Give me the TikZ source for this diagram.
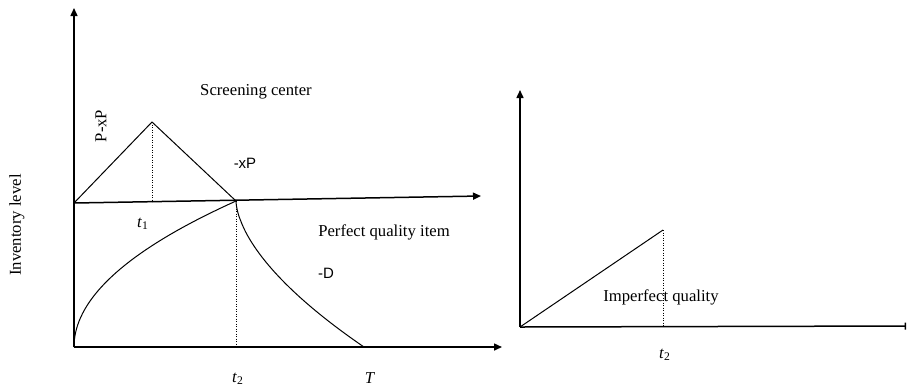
\documentclass[tikz,border=0pt]{standalone}
\usepackage{fontspec}
\setmainfont{Liberation Serif}
\newfontfamily\arialfont{Liberation Sans}
\usetikzlibrary{arrows.meta}
\newcommand{\tlab}[1]{\textit{t}\textsubscript{#1}}
\tikzset{
  axis/.style={line width=0.9pt,-{Triangle[length=4.8pt,width=4.2pt]}},
  curve/.style={line width=0.6pt},
  guide/.style={line width=0.5pt,densely dotted},
  lab/.style={font=\fontsize{10}{12}\selectfont,inner sep=0pt},
  rate/.style={font=\arialfont\fontsize{9}{11}\selectfont,inner sep=0pt},
}
\begin{document}
\begin{tikzpicture}[x=0.6pt,y=-0.6pt]
  \useasboundingbox (0,0) rectangle (907,391);
  % Screening center and perfect items
  \coordinate (o1) at (74,347);
  \coordinate (m1) at (74,203);
  \coordinate (top1) at (74,8);
  \coordinate (endT) at (502,347);
  \coordinate (endM) at (481,196);
  \coordinate (peak) at (152,122);
  \coordinate (foot1) at (152,202);
  \coordinate (meet) at (236,201);
  \coordinate (foot2) at (236,347);
  \draw[axis] (o1) -- (top1);
  \draw[axis] (o1) -- (endT);
  \draw[axis] (m1) -- (endM);
  \draw[curve] (m1) -- (peak) -- (meet);
  \draw[guide] (peak) -- (foot1);
  \draw[guide] (meet) -- (foot2);
  \draw[curve] plot[domain=0:1,samples=40,variable=\s] ({74+162*\s*\s},{347-146*\s});
  \draw[curve] (meet) -- plot[domain=0.01:1,samples=40,variable=\s] ({236+128*pow(\s,5/3)},{201+146*\s});
  \node[lab] (screen) at (256,92) {Screening center};
  \node[lab,rotate=90] (pxp) at (101,126) {P-xP};
  \node[rate] (xp) at (245,163) {-xP};
  \node[lab] (t1) at (143,224) {\tlab{1}};
  \node[lab] (perfect) at (384,232) {Perfect quality item};
  \node[rate] (d) at (326,273) {-D};
  \node[lab] (t2a) at (238,379) {\tlab{2}};
  \node[lab] (bigT) at (370,378) {\textit{T}};
  \node[lab,rotate=90] (inv) at (17,225) {Inventory level};
  % Imperfect items
  \coordinate (o2) at (520,327);
  \coordinate (top2) at (520,90);
  \coordinate (end2) at (906,326);
  \coordinate (peak2) at (663,230);
  \coordinate (foot3) at (663,327);
  \draw[axis] (o2) -- (top2);
  \draw[line width=0.9pt,-{Bar[width=4.2pt]}] (o2) -- (end2);
  \draw[curve] (o2) -- (peak2);
  \draw[guide] (peak2) -- (foot3);
  \node[lab] (imperfect) at (661,297) {Imperfect quality};
  \node[lab] (t2b) at (665,355) {\tlab{2}};
\end{tikzpicture}
\end{document}
